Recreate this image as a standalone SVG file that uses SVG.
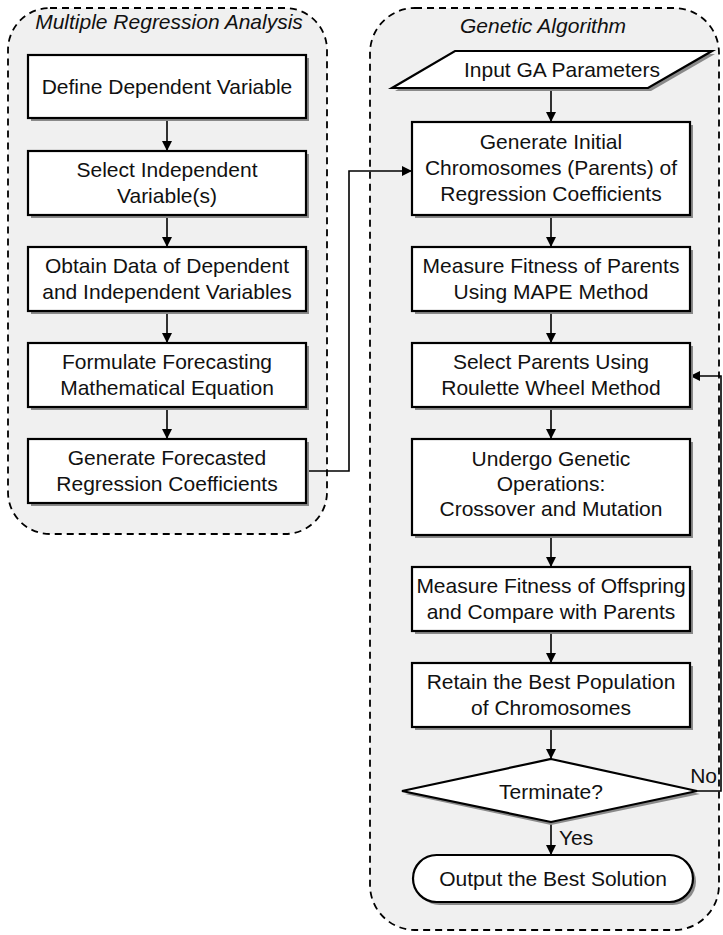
<svg xmlns="http://www.w3.org/2000/svg" width="723" height="935" viewBox="0 0 723 935">
<style>
.cont{fill:#f0f0f0;stroke:#000;stroke-width:1.8;stroke-dasharray:7 5}
.shadow{fill:#8a8a8a}
.box{fill:#fff;stroke:#000;stroke-width:2.2}
.t{font-family:"Liberation Sans",Arial,sans-serif;font-size:21px;fill:#111;text-anchor:middle}
.title{font-family:"Liberation Sans",Arial,sans-serif;font-size:21px;font-style:italic;fill:#111;text-anchor:middle}
.lbl{font-family:"Liberation Sans",Arial,sans-serif;font-size:21px;fill:#111}
.c{fill:none;stroke:#000;stroke-width:1.6}
</style>
<defs>
<marker id="ah" viewBox="0 0 10 10" refX="10" refY="5" markerWidth="10" markerHeight="10" markerUnits="userSpaceOnUse" orient="auto">
<path d="M0,0 L10,5 L0,10 Z" fill="#000"/>
</marker>
</defs>

<g id="container-mra">
<rect class="cont" x="8" y="8" width="319" height="526" rx="42"/>
<text class="title" x="169" y="29">Multiple Regression Analysis</text>
</g>
<g id="container-ga">
<rect class="cont" x="370" y="8" width="349" height="922" rx="45"/>
<text class="title" x="543" y="33">Genetic Algorithm</text>
</g>

<g id="connectors">
<path class="c" d="M167,118 V151" marker-end="url(#ah)"/>
<path class="c" d="M167,215 V247" marker-end="url(#ah)"/>
<path class="c" d="M167,311 V343" marker-end="url(#ah)"/>
<path class="c" d="M167,407 V439" marker-end="url(#ah)"/>
<path class="c" d="M306,471 H349 V171 H412" marker-end="url(#ah)"/>
<path class="c" d="M551,88 V122" marker-end="url(#ah)"/>
<path class="c" d="M551,215 V247" marker-end="url(#ah)"/>
<path class="c" d="M551,311 V343" marker-end="url(#ah)"/>
<path class="c" d="M551,407 V439" marker-end="url(#ah)"/>
<path class="c" d="M551,535 V567" marker-end="url(#ah)"/>
<path class="c" d="M551,631 V663" marker-end="url(#ah)"/>
<path class="c" d="M551,727 V759" marker-end="url(#ah)"/>
<path class="c" d="M551,822 V855" marker-end="url(#ah)"/>
<path class="c" d="M697,791 H721 V376 H690" marker-end="url(#ah)"/>
<text class="lbl" x="717" y="783" text-anchor="end">No</text>
<text class="lbl" x="559" y="845">Yes</text>
</g>

<g id="n1">
<rect class="shadow" x="31" y="58" width="278" height="63"/>
<rect class="box" x="28" y="55" width="278" height="63"/>
<text class="t" x="167" y="94">Define Dependent Variable</text>
</g>
<g id="n2">
<rect class="shadow" x="31" y="154" width="278" height="64"/>
<rect class="box" x="28" y="151" width="278" height="64"/>
<text class="t" x="167" y="177">Select Independent</text>
<text class="t" x="167" y="203">Variable(s)</text>
</g>
<g id="n3">
<rect class="shadow" x="31" y="250" width="278" height="64"/>
<rect class="box" x="28" y="247" width="278" height="64"/>
<text class="t" x="167" y="273">Obtain Data of Dependent</text>
<text class="t" x="167" y="299">and Independent Variables</text>
</g>
<g id="n4">
<rect class="shadow" x="31" y="346" width="278" height="64"/>
<rect class="box" x="28" y="343" width="278" height="64"/>
<text class="t" x="167" y="369">Formulate Forecasting</text>
<text class="t" x="167" y="395">Mathematical Equation</text>
</g>
<g id="n5">
<rect class="shadow" x="31" y="442" width="278" height="64"/>
<rect class="box" x="28" y="439" width="278" height="64"/>
<text class="t" x="167" y="465">Generate Forecasted</text>
<text class="t" x="167" y="491">Regression Coefficients</text>
</g>

<g id="g1">
<polygon class="shadow" points="458,54 715,54 651,91 395,91"/>
<polygon class="box" points="455,51 712,51 648,88 392,88"/>
<text class="t" x="562" y="77">Input GA Parameters</text>
</g>
<g id="g2">
<rect class="shadow" x="415" y="125" width="278" height="93"/>
<rect class="box" x="412" y="122" width="278" height="93"/>
<text class="t" x="551" y="149">Generate Initial</text>
<text class="t" x="551" y="175">Chromosomes (Parents) of</text>
<text class="t" x="551" y="201">Regression Coefficients</text>
</g>
<g id="g3">
<rect class="shadow" x="415" y="250" width="278" height="64"/>
<rect class="box" x="412" y="247" width="278" height="64"/>
<text class="t" x="551" y="273">Measure Fitness of Parents</text>
<text class="t" x="551" y="299">Using MAPE Method</text>
</g>
<g id="g4">
<rect class="shadow" x="415" y="346" width="278" height="64"/>
<rect class="box" x="412" y="343" width="278" height="64"/>
<text class="t" x="551" y="369">Select Parents Using</text>
<text class="t" x="551" y="395">Roulette Wheel Method</text>
</g>
<g id="g5">
<rect class="shadow" x="415" y="442" width="278" height="96"/>
<rect class="box" x="412" y="439" width="278" height="96"/>
<text class="t" x="551" y="466">Undergo Genetic</text>
<text class="t" x="551" y="491">Operations:</text>
<text class="t" x="551" y="516">Crossover and Mutation</text>
</g>
<g id="g6">
<rect class="shadow" x="415" y="570" width="278" height="64"/>
<rect class="box" x="412" y="567" width="278" height="64"/>
<text class="t" x="551" y="593">Measure Fitness of Offspring</text>
<text class="t" x="551" y="619">and Compare with Parents</text>
</g>
<g id="g7">
<rect class="shadow" x="415" y="666" width="278" height="64"/>
<rect class="box" x="412" y="663" width="278" height="64"/>
<text class="t" x="551" y="689">Retain the Best Population</text>
<text class="t" x="551" y="715">of Chromosomes</text>
</g>
<g id="g8">
<polygon class="shadow" points="551,762 700,794 551,825 405,794"/>
<polygon class="box" points="551,759 697,791 551,822 402,791"/>
<text class="t" x="551" y="799">Terminate?</text>
</g>
<g id="g9">
<rect class="shadow" x="416" y="858" width="280" height="47" rx="23.5"/>
<rect class="box" x="413" y="855" width="280" height="47" rx="23.5"/>
<text class="t" x="553" y="886">Output the Best Solution</text>
</g>
</svg>
